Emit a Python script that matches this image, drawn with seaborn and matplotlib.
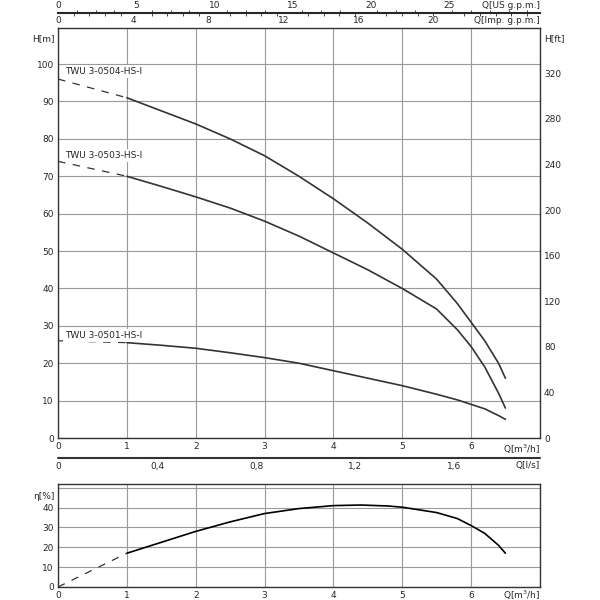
import matplotlib
matplotlib.use("Agg")
import matplotlib.pyplot as plt
import pandas as pd
import seaborn as sns

# pump curves (Q in m3/h, H in m)
q_pts = [1, 1.5, 2, 2.5, 3, 3.5, 4, 4.5, 5, 5.5, 5.8, 6, 6.2, 6.4, 6.5]
h_0504 = [91, 87.5, 84, 80, 75.5, 70, 64, 57.5, 50.5, 42.5, 36, 31, 26, 20, 16]
h_0503 = [70, 67.3, 64.5, 61.5, 58, 54, 49.5, 45, 40, 34.5, 29, 24.5, 19, 12, 8]
h_0501 = [25.5, 24.8, 24, 22.8, 21.5, 20, 18, 16, 14, 11.7, 10.2, 9, 7.8, 6, 5]
h_start = [96, 74, 26]  # dashed part at Q=0
labels = ["TWU 3-0504-HS-I", "TWU 3-0503-HS-I", "TWU 3-0501-HS-I"]
label_y = [98, 75.5, 27.5]

q_eta = [1, 1.5, 2, 2.5, 3, 3.5, 4, 4.4, 4.8, 5, 5.5, 5.8, 6, 6.2, 6.4, 6.5]
eta = [17, 22.5, 28, 32.8, 37, 39.5, 41, 41.3, 40.8, 40.2, 37.5, 34.5, 31, 27, 21, 17]

sns.set_style("white")
plt.rcParams['font.family'] = ['DejaVu Sans']
fig = plt.figure(figsize=(6, 6), dpi=100)
ax = fig.add_axes([0.0967, 0.27, 0.803, 0.683])
ax2 = fig.add_axes([0.0967, 0.0217, 0.803, 0.172])

grid_c = "#999999"
fs = 6.5

def style(a, ymax, yt):
    a.set_xlim(0, 7)
    a.set_ylim(0, ymax)
    a.set_xticks(range(0, 8))
    a.set_xticklabels([str(i) for i in range(7)] + [""], fontsize=fs)
    a.set_yticks(yt)
    a.tick_params(labelsize=fs, length=0, pad=3)
    a.grid(True, color=grid_c, lw=0.8)
    for s in a.spines.values():
        s.set_color("#333333")
        s.set_linewidth(1)
    a.text(1.0, -0.012, "Q[m$^3$/h]", transform=a.transAxes, ha="right", va="top", fontsize=fs)

style(ax, 109.6, range(0, 101, 10))
ax.set_yticklabels([str(v) for v in range(0, 101, 10)])
ax.text(-0.008, 0.985, "H[m]", transform=ax.transAxes, ha="right", va="top", fontsize=fs)

for h, h0, lab, ly in zip([h_0504, h_0503, h_0501], h_start, labels, label_y):
    df = pd.DataFrame({"Q": q_pts, "H": h})
    sns.lineplot(data=df, x="Q", y="H", ax=ax, color="#333333", lw=1.2)
    ax.plot([0, 1], [h0, h[0]], color="#333333", lw=0.9, dashes=(6, 6))
    ax.text(0.1, ly, lab, fontsize=fs, va="center",
            bbox=dict(facecolor="white", edgecolor="none", pad=1.5))
ax.set_xlabel("")
ax.set_ylabel("")

# H in ft on the right
axr = ax.twinx()
axr.set_ylim(0, 109.6 * 3.2808)
axr.set_yticks(range(0, 321, 40))
axr.tick_params(labelsize=fs, length=0, pad=3)
for s in axr.spines.values():
    s.set_visible(False)
axr.text(1.008, 0.985, "H[ft]", transform=ax.transAxes, ha="left", va="top", fontsize=fs)

# flow in US and Imp gpm on top
top_y = 1.037
us = ax.secondary_xaxis(top_y, functions=(lambda x: x * 4.403, lambda x: x / 4.403))
us.set_xticks(range(0, 30, 5))
us.set_xticks(range(0, 31), minor=True)
us.tick_params(labelsize=fs, direction="in", length=0, pad=2, which="major")
us.tick_params(direction="in", length=2, which="minor")
us.spines["top"].set_linewidth(1.5)
ax.text(1.0, top_y + 0.008, "Q[US g.p.m.]", transform=ax.transAxes, ha="right", va="bottom", fontsize=fs)

imp = ax.secondary_xaxis(top_y, functions=(lambda x: x * 3.666, lambda x: x / 3.666))
imp.set_xticks(range(0, 24, 4))
imp.set_xticks(range(0, 26), minor=True)
imp.xaxis.set_ticks_position("bottom")
imp.tick_params(labelsize=fs, direction="in", length=0, pad=2, which="major")
imp.tick_params(direction="in", length=2, which="minor")
imp.spines["top"].set_visible(False)
ax.text(1.0, top_y - 0.008, "Q[Imp. g.p.m.]", transform=ax.transAxes, ha="right", va="top", fontsize=fs)

# efficiency
style(ax2, 52, range(0, 51, 10))
ax2.set_yticklabels(["0", "10", "20", "30", "40", ""])
ax2.text(-0.008, 0.92, "η[%]", transform=ax2.transAxes, ha="right", va="top", fontsize=fs)
df_eta = pd.DataFrame({"Q": q_eta, "eta": eta})
sns.lineplot(data=df_eta, x="Q", y="eta", ax=ax2, color="black", lw=1.2)
ax2.plot([0, 1], [0, eta[0]], color="#333333", lw=0.9, dashes=(6, 6))
ax2.set_xlabel("")
ax2.set_ylabel("")

ls_y = 1.25
ls = ax2.secondary_xaxis(ls_y, functions=(lambda x: x / 3.6, lambda x: x * 3.6))
ls.set_xticks([0, 0.4, 0.8, 1.2, 1.6])
ls.set_xticklabels(["0", "0,4", "0,8", "1,2", "1,6"])
ls.xaxis.set_ticks_position("bottom")
ls.tick_params(labelsize=fs, length=0, pad=3)
ls.spines["top"].set_visible(False)
ls.spines["bottom"].set_visible(False)
ax2.text(1.0, ls_y - 0.03, "Q[l/s]", transform=ax2.transAxes, ha="right", va="top", fontsize=fs)
ax2.plot([0, 1], [ls_y, ls_y], transform=ax2.transAxes, color="#333333", lw=1.5, clip_on=False)

fig.savefig("out.png", dpi=100)
